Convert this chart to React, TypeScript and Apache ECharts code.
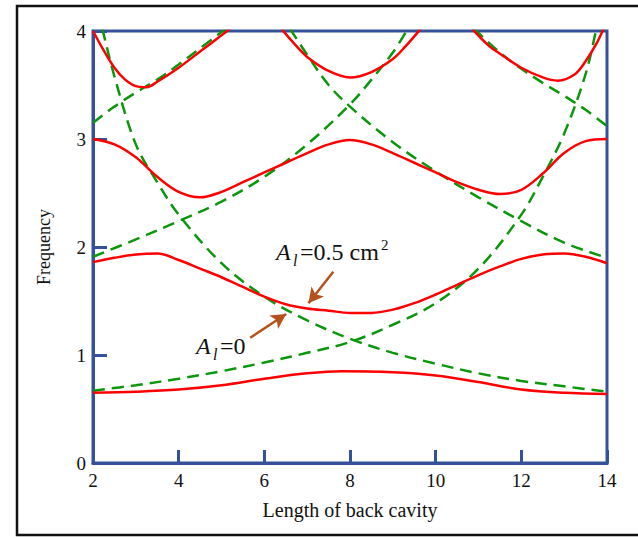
import React, { useEffect, useRef } from 'react';
import * as echarts from 'echarts';

// Length of back cavity (x) vs Frequency (y)
const xTickLabels = [2, 4, 6, 8, 10, 12, 14];
const yTickLabels = [0, 1, 2, 3, 4];

// Coupled modes (A_l = 0.5 cm^2), red solid
const red1: number[][] = [[2, 0.65], [3, 0.66], [4, 0.68], [5, 0.72], [6, 0.78], [7, 0.83], [7.8, 0.85], [9, 0.84], [10, 0.81], [11, 0.75], [12, 0.68], [13, 0.65], [14, 0.64]];
const red2: number[][] = [[2, 1.86], [2.5, 1.9], [3, 1.93], [3.5, 1.94], [4, 1.88], [4.5, 1.8], [5, 1.72], [5.5, 1.63], [6, 1.54], [6.5, 1.47], [7, 1.43], [7.5, 1.41], [8, 1.39], [8.5, 1.39], [9, 1.42], [9.5, 1.48], [10, 1.56], [10.5, 1.65], [11, 1.74], [11.5, 1.82], [12, 1.89], [12.5, 1.93], [13, 1.94], [13.5, 1.91], [14, 1.85]];
const red3: number[][] = [[2, 3.0], [2.5, 2.95], [3, 2.83], [3.5, 2.65], [4, 2.51], [4.5, 2.46], [5, 2.51], [5.5, 2.6], [6, 2.69], [6.5, 2.78], [7, 2.87], [7.5, 2.95], [8, 2.99], [8.5, 2.95], [9, 2.87], [9.5, 2.78], [10, 2.69], [10.5, 2.6], [11, 2.53], [11.5, 2.49], [12, 2.53], [12.5, 2.68], [13, 2.87], [13.5, 2.98], [14, 3.0]];
const red4a: number[][] = [[2, 4.0], [2.25, 3.82], [2.5, 3.66], [2.75, 3.55], [3, 3.49], [3.25, 3.48], [3.5, 3.53], [4, 3.66], [4.5, 3.81], [5, 3.96], [5.2, 4.02]];
const red4b: number[][] = [[6.4, 4.02], [6.75, 3.86], [7, 3.76], [7.5, 3.63], [8, 3.57], [8.5, 3.62], [9, 3.74], [9.3, 3.86], [9.65, 4.02]];
const red4c: number[][] = [[10.85, 4.02], [11.25, 3.86], [11.5, 3.79], [12, 3.66], [12.5, 3.57], [12.85, 3.54], [13.25, 3.6], [13.5, 3.72], [13.75, 3.88], [13.92, 4.02]];

// Uncoupled modes (A_l = 0), green dashed
const green1Rise: number[][] = [[2, 0.67], [3, 0.72], [4, 0.78], [5, 0.85], [6, 0.93], [7, 1.02], [8, 1.12], [9, 1.28], [10, 1.48], [11, 1.8], [12, 2.3], [12.5, 2.65], [13, 3.05], [13.5, 3.6], [13.75, 4.02]];
const green1Fall: number[][] = [[2.22, 4.02], [2.5, 3.58], [3, 2.95], [3.5, 2.6], [4, 2.3], [5, 1.85], [6, 1.54], [7, 1.32], [8, 1.15], [9, 1.02], [10, 0.92], [11, 0.83], [12, 0.76], [13, 0.71], [14, 0.66]];
const green2Rise: number[][] = [[2, 1.91], [3, 2.07], [4, 2.24], [5, 2.42], [6, 2.65], [7, 2.95], [8, 3.32], [8.5, 3.55], [9, 3.8], [9.35, 4.02]];
const green2Fall: number[][] = [[6.6, 4.02], [7, 3.78], [7.5, 3.5], [8, 3.3], [9, 2.97], [10, 2.7], [11, 2.46], [12, 2.24], [13, 2.04], [14, 1.9]];
const green3Rise: number[][] = [[2, 3.15], [2.5, 3.3], [3, 3.43], [3.5, 3.55], [4, 3.69], [4.5, 3.84], [5.1, 4.02]];
const green3Fall: number[][] = [[10.9, 4.02], [11.5, 3.8], [12, 3.65], [12.5, 3.52], [13, 3.4], [13.5, 3.27], [14, 3.12]];

// Annotation arrows (data coords: [from, to])
const arrowCoupled: number[][] = [[7.61, 1.77], [7.03, 1.48]];
const arrowUncoupled: number[][] = [[5.67, 1.16], [6.51, 1.38]];

const AXIS_BLUE = '#34529a';
const SERIF = 'Liberation Serif';

export default function App() {
  const ref = useRef<HTMLDivElement>(null);
  useEffect(() => {
    if (!ref.current) return;
    const chart = echarts.init(ref.current, undefined, { renderer: 'svg' });
    const redLine = (data: number[][]) => ({
      type: 'line', data, symbol: 'none', smooth: 0.35, clip: true, z: 3,
      lineStyle: { color: '#ff0000', width: 2.5 },
    });
    const greenLine = (data: number[][]) => ({
      type: 'line', data, symbol: 'none', smooth: 0.35, clip: true, z: 2,
      lineStyle: { color: '#0b960b', width: 2.5, type: [12, 7] },
    });
    // baseline given; 'middle' centres the em box ~0.32em above it
    const txt = (text: string, x: number, baseline: number, size: number, italic = false) => ({
      type: 'text', x, y: baseline - size * 0.32, z: 10,
      style: { text, fontSize: size, fontFamily: SERIF, fontStyle: italic ? 'italic' : 'normal', fill: '#111', verticalAlign: 'middle', align: 'left' },
    });
    chart.setOption({
      animation: false,
      grid: { left: 93, top: 31, width: 514, height: 432, show: true, borderColor: AXIS_BLUE, borderWidth: 3, backgroundColor: 'transparent' },
      xAxis: {
        type: 'value', min: xTickLabels[0], max: xTickLabels[xTickLabels.length - 1], interval: 2,
        name: 'Length of back cavity', nameLocation: 'middle', nameGap: 37,
        nameTextStyle: { fontFamily: SERIF, fontSize: 20, color: '#111' },
        axisLine: { show: true, lineStyle: { color: AXIS_BLUE, width: 3 } },
        axisTick: { show: true, inside: true, length: 13, lineStyle: { color: AXIS_BLUE, width: 3 } },
        axisLabel: { fontFamily: SERIF, fontSize: 19, color: '#111', margin: 8 },
        splitLine: { show: false },
      },
      yAxis: {
        type: 'value', min: yTickLabels[0], max: yTickLabels[yTickLabels.length - 1], interval: 1,
        name: 'Frequency', nameLocation: 'middle', nameGap: 40,
        nameTextStyle: { fontFamily: SERIF, fontSize: 18, color: '#111' },
        axisLine: { show: true, lineStyle: { color: AXIS_BLUE, width: 3 } },
        axisTick: { show: true, inside: true, length: 14, lineStyle: { color: AXIS_BLUE, width: 3 } },
        axisLabel: { fontFamily: SERIF, fontSize: 19, color: '#111', margin: 7 },
        splitLine: { show: false },
      },
      series: [
        greenLine(green1Rise), greenLine(green1Fall), greenLine(green2Rise),
        greenLine(green2Fall), greenLine(green3Rise), greenLine(green3Fall),
        redLine(red1), redLine(red2), redLine(red3), redLine(red4a), redLine(red4b), redLine(red4c),
        {
          type: 'line', data: [], symbol: 'none', z: 5,
          markLine: {
            silent: true, symbol: ['none', 'arrow'], symbolSize: [12, 15],
            lineStyle: { color: '#b5521c', width: 2.5, type: 'solid' },
            label: { show: false },
            data: [
              [{ coord: arrowCoupled[0] }, { coord: arrowCoupled[1] }],
              [{ coord: arrowUncoupled[0] }, { coord: arrowUncoupled[1] }],
            ],
          },
        },
      ],
      graphic: [
        { type: 'rect', z: -10, shape: { x: 17, y: 6, width: 700, height: 529 }, style: { fill: 'none', stroke: '#111', lineWidth: 2.5 } },
        txt('A', 276, 260, 24, true),
        txt('l', 293, 266, 16, true),
        txt('=0.5 cm', 300, 260, 24),
        txt('2', 381, 250, 15),
        txt('A', 196, 354, 24, true),
        txt('l', 213, 360, 16, true),
        txt('=0', 220, 354, 24),
      ],
    });
    return () => chart.dispose();
  }, []);
  return <div ref={ref} style={{ position: 'fixed', left: 0, top: 0, width: 638, height: 538, background: '#fff' }} />;
}
